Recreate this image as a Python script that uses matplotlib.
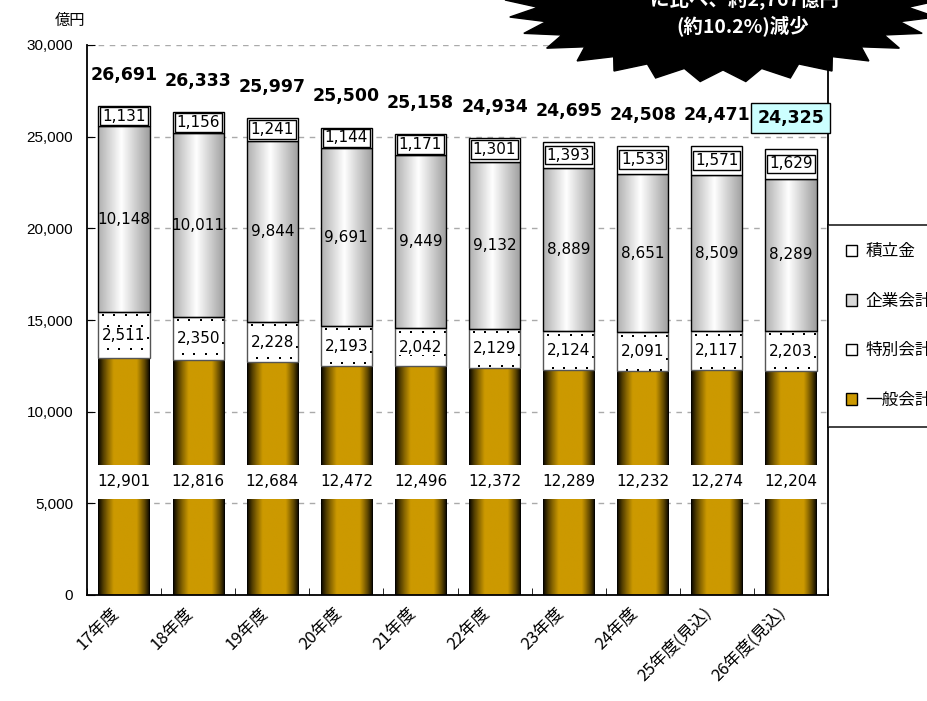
import numpy as np
import matplotlib
matplotlib.use("Agg")
import matplotlib.pyplot as plt
import matplotlib.transforms as mtransforms
from matplotlib.patches import Polygon, Patch
from matplotlib.ticker import FuncFormatter, MultipleLocator

plt.rcParams['font.family'] = ['Noto Sans CJK JP', 'DejaVu Sans']
NUM_FONT = ['DejaVu Sans', 'Noto Sans CJK JP']

# data
years = ["17年度", "18年度", "19年度", "20年度", "21年度", "22年度",
         "23年度", "24年度", "25年度(見込)", "26年度(見込)"]
ippan = [12901, 12816, 12684, 12472, 12496, 12372, 12289, 12232, 12274, 12204]
tokubetsu = [2511, 2350, 2228, 2193, 2042, 2129, 2124, 2091, 2117, 2203]
kigyo = [10148, 10011, 9844, 9691, 9449, 9132, 8889, 8651, 8509, 8289]
tsumitate = [1131, 1156, 1241, 1144, 1171, 1301, 1393, 1533, 1571, 1629]
totals = [26691, 26333, 25997, 25500, 25158, 24934, 24695, 24508, 24471, 24325]
series_names = ["一般会計", "特別会計", "企業会計", "積立金"]

W, H = 928, 701
fig = plt.figure(figsize=(W / 100, H / 100), dpi=100)


def fx(px):
    return px / W


def fy(py):
    return 1 - py / H


ax = fig.add_axes([fx(87), fy(595), fx(828) - fx(87), fy(45) - fy(595)])

x = np.arange(len(years))
bw = 0.69
gold = np.array([0.80, 0.60, 0.0])

t = np.linspace(0, 1, 64)
f_gold = np.clip(np.minimum(t / 0.3, (1 - t) / 0.25), 0, 1) ** 0.8
grad_gold = (f_gold[:, None] * gold)[None, :, :]
f_gray = np.abs(t - 0.45) / 0.55
grad_gray = (1 - 0.38 * f_gray)[:, None] * np.ones(3)
grad_gray = grad_gray[None, :, :]


def dot_texture(h, w, step=11):
    # small sparse dot pattern (white background, black 2px dots)
    img = np.ones((h, w, 3))
    for r in range(3, h - 1, step):
        shift = (r // step) % 2 * (step // 2)
        for c in range(4 + shift, w - 2, step):
            img[r:r + 2, c:c + 2] = 0
    return img


px_per_unit_y = 550 / 30000
px_per_unit_x = 741 / len(years)

for i in range(len(x)):
    b0 = 0
    b1 = ippan[i]
    b2 = b1 + tokubetsu[i]
    b3 = b2 + kigyo[i]
    b4 = b3 + tsumitate[i]
    l, r = x[i] - bw / 2, x[i] + bw / 2
    # 一般会計
    ax.imshow(grad_gold, extent=(l, r, b0, b1), aspect='auto',
              interpolation='bilinear', zorder=2)
    # 特別会計
    tex = dot_texture(int(round(tokubetsu[i] * px_per_unit_y)),
                      int(round(bw * px_per_unit_x)))
    ax.imshow(tex, extent=(l, r, b1, b2), aspect='auto',
              interpolation='nearest', zorder=2)
    ax.bar(x[i], tokubetsu[i], bottom=b1, width=bw, fill=False,
           edgecolor='#555555', linewidth=1, zorder=3)
    # 企業会計
    ax.imshow(grad_gray, extent=(l, r, b2, b3), aspect='auto',
              interpolation='bilinear', zorder=2)
    ax.bar(x[i], kigyo[i], bottom=b2, width=bw, fill=False,
           edgecolor='black', linewidth=1, zorder=3)
    # 積立金
    ax.bar(x[i], tsumitate[i], bottom=b3, width=bw, color='white',
           edgecolor='black', linewidth=1, zorder=3)

    # white band behind 一般会計 label
    ax.bar(x[i], 7090 - 5240, bottom=5240, width=bw + 0.04, color='white',
           zorder=4)
    ax.text(x[i], 6165, f"{ippan[i]:,}", ha='center', va='center',
            fontsize=11, family=NUM_FONT, zorder=5)
    ax.text(x[i], (b1 + b2) / 2, f"{tokubetsu[i]:,}", ha='center',
            va='center', fontsize=11, family=NUM_FONT, zorder=5,
            bbox=dict(boxstyle='square,pad=0.05', fc='white', ec='none'))
    ax.text(x[i], (b2 + b3) / 2, f"{kigyo[i]:,}", ha='center', va='center',
            fontsize=11, family=NUM_FONT, zorder=5)
    ax.text(x[i], (b3 + b4) / 2, f"{tsumitate[i]:,}", ha='center',
            va='center', fontsize=11, family=NUM_FONT, zorder=5,
            bbox=dict(boxstyle='square,pad=0.12', fc='white', ec='black',
                      lw=1))
    if i == len(x) - 1:
        box = dict(boxstyle='square,pad=0.35', fc='#CCFFFF', ec='black',
                   lw=1)
    else:
        box = None
    ax.annotate(f"{totals[i]:,}", xy=(x[i], b4), xytext=(0, 31),
                textcoords='offset pixels', ha='center', va='center',
                fontsize=12.5, fontweight='bold', family=NUM_FONT, zorder=6,
                bbox=box, annotation_clip=False)

ax.set_xlim(-0.5, len(x) - 0.5)
ax.set_ylim(0, 30000)
ax.yaxis.set_major_locator(MultipleLocator(5000))
ax.yaxis.set_major_formatter(FuncFormatter(lambda v, p: f"{int(v):,}"))
ax.grid(axis='y', color='#AAAAAA', linestyle=(0, (4, 4)), linewidth=1,
        zorder=0)
ax.set_axisbelow(True)
ax.spines['top'].set_visible(False)
for s in ['left', 'bottom', 'right']:
    ax.spines[s].set_linewidth(1.3)
ax.tick_params(axis='y', direction='in', length=6, labelsize=11, pad=10)
for lab in ax.get_yticklabels():
    lab.set_family(['Liberation Sans', 'DejaVu Sans'])
ax.set_xticks(x)
ax.set_xticklabels(years, rotation=45, ha='right', va='center',
                   rotation_mode='anchor', fontsize=12)
ax.tick_params(axis='x', length=0, pad=11)
shift = mtransforms.ScaledTranslation(-8 / 100, 0, fig.dpi_scale_trans)
for lab in ax.get_xticklabels():
    lab.set_transform(lab.get_transform() + shift)
ax.set_xticks(np.arange(-0.5, len(x), 1.0), minor=True)
ax.tick_params(axis='x', which='minor', direction='in', length=5)

fig.text(fx(70), fy(20), "億円", ha='center', va='center', fontsize=11)

# legend
handles = [
    Patch(fc='white', ec='black', label="積立金"),
    Patch(fc='#D8D8D8', ec='black', label="企業会計"),
    Patch(fc='white', ec='black', label="特別会計"),
    Patch(fc=gold, ec='black', label="一般会計"),
]
leg = fig.legend(handles=handles, loc='upper left',
                 bbox_to_anchor=(fx(828), fy(225)), fontsize=12,
                 frameon=True, fancybox=False, edgecolor='black',
                 handlelength=0.65, handleheight=0.65, handletextpad=0.5,
                 labelspacing=1.95, borderpad=1.1, borderaxespad=0)
leg.get_frame().set_linewidth(1.3)

# starburst callout
cx, cy = 723, 0
n = 30
k = np.arange(2 * n)
ang = np.deg2rad(90 - 6) + k * np.pi / n
rx = np.where(k % 2 == 0, 218, 186)
ry = np.where(k % 2 == 0, 82, 70)
px = cx + rx * np.cos(ang)
py = cy + ry * np.sin(ang)
star = Polygon(np.column_stack([fx(px), fy(py)]), closed=True,
               transform=fig.transFigure, fc='black', ec='black', zorder=10)
fig.add_artist(star)
fig.text(fx(745), fy(-1), "に比べ、約2,767億円", ha='center', va='center',
         color='white', fontsize=14, fontweight='bold', zorder=11)
fig.text(fx(743), fy(27), "(約10.2%)減少", ha='center', va='center',
         color='white', fontsize=14, fontweight='bold', zorder=11)

fig.savefig("out.png", dpi=100)
